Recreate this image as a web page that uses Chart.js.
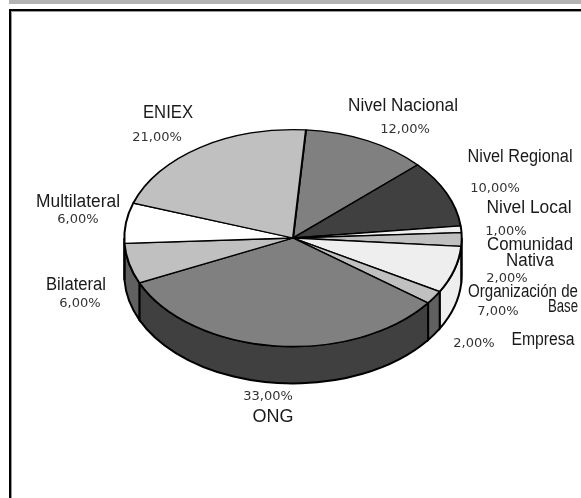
<!DOCTYPE html>
<html>
<head>
<meta charset="utf-8">
<title>Pie</title>
<script src="https://cdn.jsdelivr.net/npm/chart.js@4/dist/chart.umd.min.js"></script>
<style>
  body { margin: 0; background: #fff; overflow: hidden; }
  #wrap { position: relative; width: 581px; height: 498px; }
  #bar { position: absolute; left: 9px; top: 0; right: 0; height: 4px; background: #b3b3b3; }
  #frame { position: absolute; left: 9px; top: 9px; right: -4px; bottom: -4px; border: 2px solid #000; box-shadow: inset 1px 1px 0 #999; }
  canvas { position: absolute; left: 0; top: 0; }
</style>
</head>
<body>
<div id="wrap">
  <div id="bar"></div>
  <div id="frame"></div>
  <canvas id="myChart" width="581" height="498"></canvas>
</div>
<script>
var categories = ["Nivel Nacional", "Nivel Regional", "Nivel Local", "Comunidad Nativa", "Organización de Base", "Empresa", "ONG", "Bilateral", "Multilateral", "ENIEX"];
var values = [12, 10, 1, 2, 7, 2, 33, 6, 6, 21];
var topColors = ["#808080", "#404040", "#eeeeee", "#c0c0c0", "#eeeeee", "#c0c0c0", "#808080", "#c0c0c0", "#ffffff", "#c0c0c0"];
var sideColors = ["#606060", "#303030", "#eeeeee", "#909090", "#eeeeee", "#606060", "#404040", "#606060", "#ffffff", "#909090"];

// name lines and where they sit on the page (centre x, baseline y, width)
var nameLines = [["Nivel Nacional"], ["Nivel Regional"], ["Nivel Local"], ["Comunidad", "Nativa"], ["Organización de", "Base"], ["Empresa"], ["ONG"], ["Bilateral"], ["Multilateral"], ["ENIEX"]];
var nameSpots = [
  [[403, 111, 110]],
  [[520, 162, 105]],
  [[529, 213, 85]],
  [[530, 250, 86], [530, 266, 48]],
  [[523, 297, 110], [563, 312, 30]],
  [[543, 345, 63]],
  [[273, 422, 44]],
  [[76, 290, 60]],
  [[78, 207, 84]],
  [[168, 118, 50]]
];
var percentSpots = [[405, 133], [495, 192], [506, 235], [507, 282], [498, 315], [474, 347], [268, 400], [80, 307], [78, 223], [157, 141]];

var squash = 0.643; // top of the pie seen at an angle
var depth = 37;

var pie3d = {
  id: "pie3d",
  beforeDatasetsDraw(chart) {
    var ctx = chart.ctx;
    var arcs = chart.getDatasetMeta(0).data;
    var cx = arcs[0].x, cy = arcs[0].y;

    // the wall, only the front half shows
    arcs.forEach(function (arc, i) {
      var s = Math.max(arc.startAngle, 0);
      var e = Math.min(arc.endAngle, Math.PI);
      if (s >= e) return;
      var r = arc.outerRadius;
      ctx.save();
      ctx.beginPath();
      ctx.ellipse(cx, cy, r, r * squash, 0, s, e);
      ctx.ellipse(cx, cy + depth, r, r * squash, 0, e, s, true);
      ctx.closePath();
      ctx.fillStyle = sideColors[i];
      ctx.strokeStyle = "#000";
      ctx.lineWidth = 2;
      ctx.fill();
      ctx.stroke();
      ctx.restore();
    });

    ctx.save();
    ctx.translate(cx, cy);
    ctx.scale(1, squash);
    ctx.translate(-cx, -cy);
  },
  afterDatasetsDraw(chart) {
    chart.ctx.restore();
  },
  afterDraw(chart) {
    var ctx = chart.ctx;
    ctx.save();
    ctx.textAlign = "center";
    ctx.fillStyle = "#1a1a1a";
    ctx.font = "18px 'Liberation Sans'";
    nameLines.forEach(function (lines, i) {
      lines.forEach(function (line, j) {
        var spot = nameSpots[i][j];
        ctx.fillText(line, spot[0], spot[1], spot[2]);
      });
    });
    ctx.fillStyle = "#333";
    ctx.font = "13px 'DejaVu Sans'";
    values.forEach(function (v, i) {
      ctx.fillText(v.toFixed(2).replace(".", ",") + "%", percentSpots[i][0], percentSpots[i][1]);
    });
    ctx.restore();
  }
};

new Chart(document.getElementById("myChart").getContext("2d"), {
  type: "pie",
  data: {
    labels: categories,
    datasets: [{
      data: values,
      backgroundColor: topColors,
      borderColor: "#000",
      borderWidth: 2,
      radius: 168.7
    }]
  },
  options: {
    responsive: false,
    animation: false,
    rotation: 4.4,
    layout: { padding: { left: 5, bottom: 22 } },
    plugins: { legend: { display: false }, tooltip: { enabled: false } }
  },
  plugins: [pie3d]
});
</script>
</body>
</html>
